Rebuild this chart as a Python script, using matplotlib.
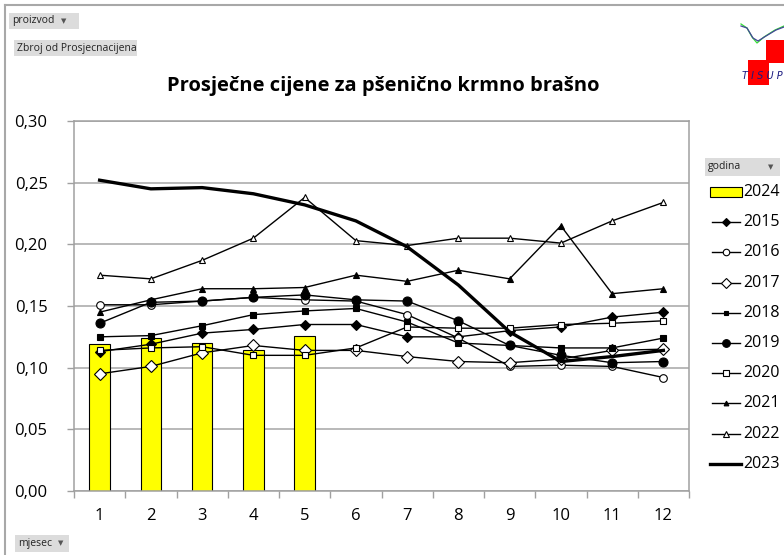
import matplotlib
matplotlib.use("Agg")
import matplotlib.pyplot as plt
from matplotlib.patches import Rectangle
from matplotlib.lines import Line2D
import numpy as np

months = [1, 2, 3, 4, 5, 6, 7, 8, 9, 10, 11, 12]
month_labels = ["1", "2", "3", "4", "5", "6", "7", "8", "9", "10", "11", "12"]

y2024 = [0.119, 0.124, 0.120, 0.114, 0.126]
y2015 = [0.113, 0.119, 0.128, 0.131, 0.135, 0.135, 0.125, 0.125, 0.130, 0.133, 0.141, 0.145]
y2016 = [0.151, 0.151, 0.154, 0.157, 0.155, 0.154, 0.143, 0.124, 0.101, 0.102, 0.101, 0.092]
y2017 = [0.095, 0.101, 0.112, 0.118, 0.114, 0.114, 0.109, 0.105, 0.104, 0.107, 0.114, 0.115]
y2018 = [0.125, 0.126, 0.134, 0.143, 0.146, 0.148, 0.137, 0.120, 0.118, 0.116, 0.116, 0.124]
y2019 = [0.136, 0.153, 0.154, 0.157, 0.159, 0.155, 0.154, 0.138, 0.118, 0.110, 0.104, 0.105]
y2020 = [0.114, 0.116, 0.117, 0.110, 0.110, 0.116, 0.133, 0.132, 0.132, 0.135, 0.136, 0.138]
y2021 = [0.145, 0.155, 0.164, 0.164, 0.165, 0.175, 0.170, 0.179, 0.172, 0.215, 0.160, 0.164]
y2022 = [0.175, 0.172, 0.187, 0.205, 0.238, 0.203, 0.199, 0.205, 0.205, 0.201, 0.219, 0.234]
y2023 = [0.252, 0.245, 0.246, 0.241, 0.232, 0.219, 0.198, 0.167, 0.129, 0.105, 0.109, 0.114]

yticks = [0.00, 0.05, 0.10, 0.15, 0.20, 0.25, 0.30]
ytick_labels = ["0,00", "0,05", "0,10", "0,15", "0,20", "0,25", "0,30"]

title = "Prosječne cijene za pšenično krmno brašno"

W, H = 784, 555
plt.rcParams['font.family'] = ['Open Sans', 'DejaVu Sans']
fig = plt.figure(figsize=(W / 100, H / 100), dpi=100)

def fx(px):
    return px / W

def fy(py):
    return 1 - py / H

ax_left, ax_right, ax_top, ax_bot = 74, 689, 121, 491
ax = fig.add_axes([fx(ax_left), fy(ax_bot), fx(ax_right) - fx(ax_left), fy(ax_top) - fy(ax_bot)])

x = np.array(months)
ax.bar(x[:len(y2024)], y2024, width=0.4, color="#FFFF00", edgecolor="black", linewidth=0.8, zorder=2)

series = [
    (y2015, dict(marker="D", ms=5, mfc="black", mec="black")),
    (y2016, dict(marker="o", ms=5.5, mfc="white", mec="black")),
    (y2017, dict(marker="D", ms=6, mfc="white", mec="black")),
    (y2018, dict(marker="s", ms=4, mfc="black", mec="black")),
    (y2019, dict(marker="o", ms=6.5, mfc="black", mec="black")),
    (y2020, dict(marker="s", ms=4.5, mfc="white", mec="black")),
    (y2021, dict(marker="^", ms=4, mfc="black", mec="black")),
    (y2022, dict(marker="^", ms=4.5, mfc="white", mec="black")),
]
for ys, st in series:
    ax.plot(x, ys, color="black", lw=1.0, mew=0.8, zorder=3, **st)
ax.plot(x, y2023, color="black", lw=2.4, zorder=4)

ax.set_xlim(0.5, 12.5)
ax.set_ylim(0, 0.30)
ax.set_yticks(yticks)
ax.set_yticklabels(ytick_labels, fontsize=12)
ax.set_xticks(x)
ax.set_xticklabels(month_labels, fontsize=12)
ax.tick_params(axis="x", length=0, pad=12)
ax.set_xticks(np.arange(0.5, 13.0, 1.0), minor=True)
ax.tick_params(axis="x", which="minor", length=5, color="#A0A0A0", width=1)
ax.tick_params(axis="y", length=5, color="#A0A0A0", width=1, pad=14)
ax.grid(axis="y", color="#A6A6A6", lw=1.1, zorder=0)
ax.set_axisbelow(True)
for side in ["top", "right", "left", "bottom"]:
    ax.spines[side].set_color("#A0A0A0")
    ax.spines[side].set_linewidth(1.1)

fig.text(fx(383), fy(86), title, fontsize=14.5, fontweight="bold", ha="center", va="center")

# Excel pivot buttons
def button(x0, y0, x1, y1, text, arrow=None, fs=7.5):
    fig.patches.append(Rectangle((fx(x0), fy(y1)), fx(x1) - fx(x0), fy(y0) - fy(y1),
                                 transform=fig.transFigure, facecolor="#DCDCDC", edgecolor="none"))
    fig.text(fx(x0 + 3), fy((y0 + y1) / 2), text, fontsize=fs, ha="left", va="center", color="#222222")
    if arrow:
        fig.text(fx(arrow), fy((y0 + y1) / 2), "▼", fontsize=5, ha="center", va="center", color="#555555",
                 family=["DejaVu Sans"])

button(9, 13, 79, 29, "proizvod", arrow=64)
button(14, 40, 137, 56, "Zbroj od Prosjecnacijena")
button(15, 535, 69, 552, "mjesec", arrow=61)
button(705, 158, 780, 176, "godina", arrow=771)

# outer border lines
fig.add_artist(Line2D([fx(5), fx(784)], [fy(5), fy(5)], color="#A8A8A8", lw=1.5))
fig.add_artist(Line2D([fx(5), fx(5)], [fy(5), fy(555)], color="#A8A8A8", lw=1.5))

# Legend drawn in a pixel-coordinate axes
lx0, lx1, ly0, ly1 = 700, 784, 178, 478
lax = fig.add_axes([fx(lx0), fy(ly1), fx(lx1) - fx(lx0), fy(ly0) - fy(ly1)])
lax.set_xlim(lx0, lx1)
lax.set_ylim(ly1, ly0)
lax.axis("off")
labels = ["2024", "2015", "2016", "2017", "2018", "2019", "2020", "2021", "2022", "2023"]
leg_styles = [None] + [st for _, st in series] + ["thick"]
y0 = 192
dy = 30.2
for i, (lab, st) in enumerate(zip(labels, leg_styles)):
    yy = y0 + i * dy
    if st is None:
        lax.add_patch(Rectangle((710, yy - 5), 32, 10, facecolor="#FFFF00", edgecolor="black", lw=0.8))
    elif st == "thick":
        lax.plot([710, 741], [yy, yy], color="black", lw=2.4)
    else:
        s = dict(st)
        s["ms"] = s["ms"] * 0.85
        lax.plot([712, 740], [yy, yy], color="black", lw=1.0)
        lax.plot([726], [yy], linestyle="none", mew=0.8, **s)
    lax.text(743, yy, lab, fontsize=11.5, ha="left", va="center")

# logo approximation
fig.patches.append(Rectangle((fx(766), fy(63)), fx(18), fy(40) - fy(63), transform=fig.transFigure,
                             facecolor="#FF0000", edgecolor="none"))
fig.patches.append(Rectangle((fx(748), fy(85)), fx(21), fy(60) - fy(85), transform=fig.transFigure,
                             facecolor="#FF0000", edgecolor="none"))
fig.add_artist(Line2D([fx(741), fx(747), fx(752), fx(757), fx(764), fx(775), fx(784)],
                      [fy(24), fy(28), fy(37), fy(43), fy(37), fy(30), fy(26)], color="#33DD33", lw=0.9))
fig.add_artist(Line2D([fx(741), fx(747), fx(753), fx(758), fx(766), fx(776), fx(784)],
                      [fy(26), fy(28), fy(38), fy(41), fy(36), fy(30), fy(27)], color="#444499", lw=0.9))
fig.text(fx(742), fy(76), "T I S U P", fontsize=7, style="italic", color="#1A1A80", ha="left", va="center",
         family=["DejaVu Sans"])

fig.savefig("out.png", dpi=100)
